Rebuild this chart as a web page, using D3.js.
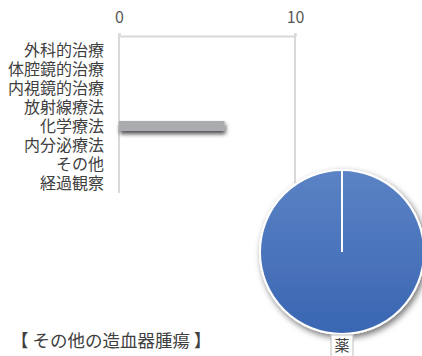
<!DOCTYPE html>
<html><head><meta charset="utf-8">
<script src="https://cdn.jsdelivr.net/npm/d3@7"></script>
<style>body{margin:0;background:#fff}svg{display:block}text{font-family:"Noto Sans CJK JP","Noto Sans",sans-serif}</style>
</head><body>
<script>
const categories = ["外科的治療","体腔鏡的治療","内視鏡的治療","放射線療法","化学療法","内分泌療法","その他","経過観察"];
const barValues = [0,0,0,0,6,0,0,0];
const xTicks = [0,10];
const pieLabels = ["薬"];
const pieValues = [1];
const title = "【 その他の造血器腫瘍 】";

const W=422,H=356;
const svg=d3.select("body").append("svg").attr("width",W).attr("height",H);
const defs=svg.append("defs");
const bs=defs.append("filter").attr("id","bs").attr("x","-20%").attr("y","-60%").attr("width","140%").attr("height","280%");
bs.append("feDropShadow").attr("dx",1).attr("dy",3).attr("stdDeviation",2.2).attr("flood-color","#000").attr("flood-opacity",0.7);
const ps=defs.append("filter").attr("id","ps").attr("x","-20%").attr("y","-20%").attr("width","140%").attr("height","140%");
ps.append("feDropShadow").attr("dx",2).attr("dy",3).attr("stdDeviation",3).attr("flood-color","#000").attr("flood-opacity",0.55);
const g=defs.append("linearGradient").attr("id","pg").attr("x1",0).attr("y1",0).attr("x2",0).attr("y2",1);
g.append("stop").attr("offset","0%").attr("stop-color","#5b83c5");
g.append("stop").attr("offset","100%").attr("stop-color","#3a66b2");

const x=d3.scaleLinear().domain([0,10]).range([119,295]);
const y=d3.scaleBand().domain(categories).range([41,193]);

// gridlines
svg.append("g").selectAll("line").data(xTicks).join("line")
  .attr("x1",d=>x(d)).attr("x2",d=>x(d)).attr("y1",35).attr("y2",193)
  .attr("stroke","#d9d9d9").attr("stroke-width",2);
// top axis
const ax=svg.append("g").attr("transform","translate(0,36)")
  .call(d3.axisTop(x).tickValues(xTicks).tickSize(3).tickPadding(10).tickFormat(d3.format("d")));
ax.select(".domain").attr("stroke","#d9d9d9").attr("stroke-width",2);
ax.selectAll(".tick line").attr("stroke","#d9d9d9").attr("stroke-width",2);
ax.selectAll("text").attr("font-size",16).attr("fill","#595959");

// category labels
svg.append("g").selectAll("text").data(categories).join("text")
  .attr("x",104).attr("y",d=>y(d)+y.bandwidth()/2).attr("dy","0.36em")
  .attr("text-anchor","end").attr("font-size",16).attr("fill","#404040").text(d=>d);

// bars
svg.append("g").selectAll("rect").data(categories.map((c,i)=>({c,v:barValues[i]})).filter(d=>d.v>0)).join("rect")
  .attr("x",x(0)).attr("y",d=>y(d.c)+y.bandwidth()/2-5.5).attr("width",d=>x(d.v)-x(0)).attr("height",10)
  .attr("fill","#a9abae").attr("filter","url(#bs)");

// pie
const cx=342,cy=252,r=82;
const pie=d3.pie().sort(null)(pieValues);
const arc=d3.arc().innerRadius(0).outerRadius(r);
const pg=svg.append("g").attr("transform",`translate(${cx},${cy})`);
pg.selectAll("path").data(pie).join("path").attr("d",arc)
  .attr("fill","url(#pg)").attr("stroke","#fff").attr("stroke-width",2).attr("filter","url(#ps)");
pg.selectAll("line.sep").data(pie).join("line").attr("class","sep")
  .attr("x1",0).attr("y1",0).attr("x2",d=>Math.sin(d.startAngle)*r).attr("y2",d=>-Math.cos(d.startAngle)*r)
  .attr("stroke","#fff").attr("stroke-width",2);

// pie label
const lg=svg.append("g").attr("transform",`translate(${cx},${cy+r+12})`);
lg.append("rect").attr("x",-11).attr("y",-11).attr("width",22).attr("height",24)
  .attr("fill","#fff").attr("stroke","#bfbfbf").attr("stroke-width",1);
lg.append("text").attr("text-anchor","middle").attr("dy","0.36em").attr("font-size",15).attr("fill","#404040").text(pieLabels[0]);

// title
svg.append("text").attr("x",11).attr("y",347).attr("font-size",17.5).attr("fill","#404040").text(title);
</script>
</body></html>
